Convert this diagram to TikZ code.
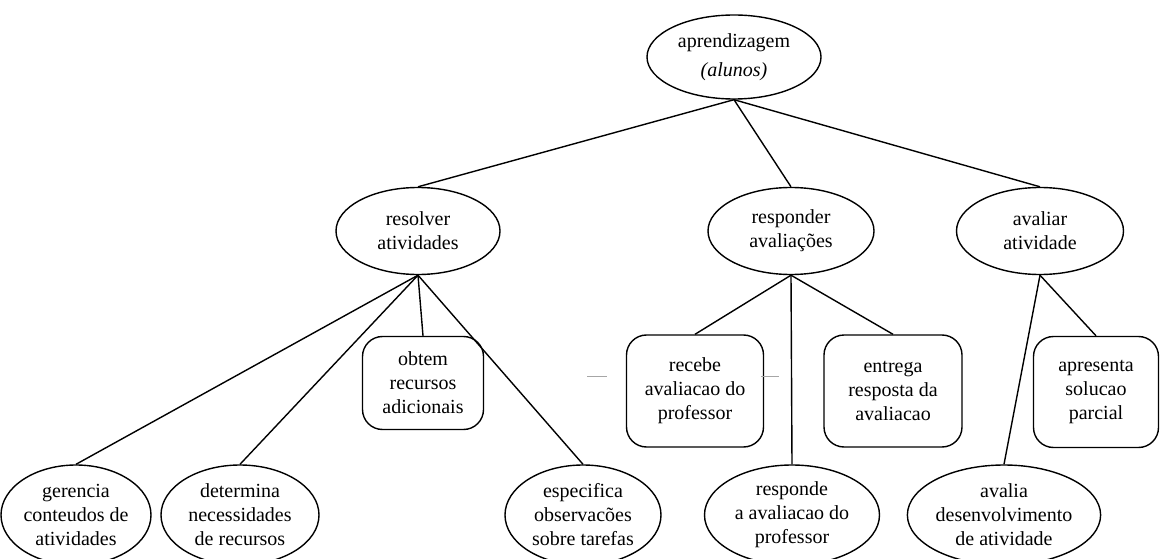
\documentclass[tikz,border=0pt]{standalone}
\usepackage{fontspec}
\setmainfont{Liberation Serif}
\usetikzlibrary{shapes.geometric}
\begin{document}
\begin{tikzpicture}[x=1pt,y=-1pt,
  txt/.style={font=\fontsize{20}{24}\selectfont, align=center, inner sep=0pt},
  oval/.style={txt, draw, ellipse, line width=1.4pt},
  rbox/.style={txt, draw, rectangle, rounded corners=20pt, line width=1.4pt},
  link/.style={line width=1.4pt},
  tick/.style={line width=0.8pt, gray!70}]
\useasboundingbox (0,0) rectangle (1160,559);
\clip (0,0) rectangle (1160,559);

% root
\node[oval, minimum width=174pt, minimum height=84pt] (root) at (734,57)
  {aprendizagem\\[5pt]\textit{(alunos)}};

% second level
\node[oval, minimum width=164pt, minimum height=87pt] (res) at (418,231) {resolver\\atividades};
\node[oval, minimum width=166pt, minimum height=87pt] (resp) at (791,231) {responder\\avaliações};
\node[oval, minimum width=167pt, minimum height=87pt] (aval) at (1040,231) {avaliar\\atividade};

% children of "resolver atividades" (bottom ovals run past the lower edge)
\node[oval, minimum width=150pt, minimum height=100pt] (ger) at (76,515) {gerencia\\conteudos de\\atividades};
\node[oval, minimum width=158pt, minimum height=100pt] (det) at (240,515) {determina\\necessidades\\de recursos};
\node[rbox, minimum width=121pt, minimum height=93pt] (obt) at (423,383) {obtem\\recursos\\adicionais};
\node[oval, minimum width=156pt, minimum height=100pt] (esp) at (583,515) {especifica\\observacões\\sobre tarefas};

% children of "responder avaliações"
\node[rbox, minimum width=137pt, minimum height=112pt] (rec) at (695,391) {recebe\\avaliacao do\\professor};
\node[oval, minimum width=175pt, minimum height=100pt] (rpd) at (792,515) {responde\\a avaliacao do\\professor};
\node[rbox, minimum width=138pt, minimum height=112pt] (ent) at (893,391) {entrega\\resposta da\\avaliacao};

% children of "avaliar atividade"
\node[oval, minimum width=170pt, minimum height=100pt] (avd) at (1004,515) {avalia\\desenvolvimento\\de atividade};
\node[rbox, minimum width=125pt, minimum height=111pt] (apr) at (1096,392) {apresenta\\solucao\\parcial};

% connectors
\draw[link] (root.south) -- (res.north);
\draw[link] (root.south) -- (resp.north);
\draw[link] (root.south) -- (aval.north);

\draw[link] (res.south) -- (ger.north);
\draw[link] (res.south) -- (det.north);
\draw[link] (res.south) -- (obt.north);
\draw[link] (res.south) -- (esp.north);

\draw[link] (resp.south) -- (rec.north);
\draw[link] (resp.south) -- (rpd.north);
\draw[link] (resp.south) -- (ent.north);

\draw[link] (aval.south) -- (avd.north);
\draw[link] (aval.south) -- (apr.north);

% short grey marks beside "recebe"
\coordinate (m1a) at (587,376); \coordinate (m1b) at (607,376);
\coordinate (m2a) at (761,376); \coordinate (m2b) at (779,376);
\draw[tick] (m1a) -- (m1b);
\draw[tick] (m2a) -- (m2b);
\end{tikzpicture}
\end{document}
